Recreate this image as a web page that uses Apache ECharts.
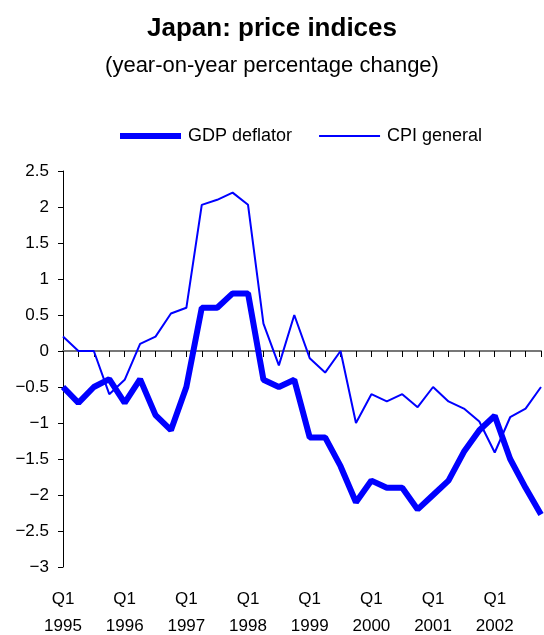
<!DOCTYPE html>
<html>
<head>
<meta charset="utf-8">
<script src="https://cdn.jsdelivr.net/npm/echarts@6/dist/echarts.min.js"></script>
<style>
html,body{margin:0;padding:0;background:#fff;}
#main{width:544px;height:635px;}
</style>
</head>
<body>
<div id="main"></div>
<script>
// quarters Q1 1995 .. Q4 2002
var years = ['1995', '1996', '1997', '1998', '1999', '2000', '2001', '2002'];
var quarters = [];
for (var y = 0; y < years.length; y++) {
	for (var q = 1; q <= 4; q++) {
		quarters.push('Q' + q + ' ' + years[y]);
	}
}

var gdpDeflator = [
	-0.5, -0.72, -0.5, -0.39, -0.72, -0.39, -0.89, -1.1,
	-0.5, 0.6, 0.6, 0.8, 0.8, -0.4, -0.5, -0.4,
	-1.2, -1.2, -1.6, -2.1, -1.8, -1.9, -1.9, -2.2,
	-2.0, -1.8, -1.4, -1.1, -0.9, -1.5, -1.9, -2.27
];
var cpiGeneral = [
	0.2, 0, 0, -0.6, -0.4, 0.1, 0.2, 0.52,
	0.6, 2.03, 2.1, 2.2, 2.03, 0.38, -0.2, 0.5,
	-0.1, -0.3, 0, -1.0, -0.6, -0.7, -0.6, -0.78,
	-0.5, -0.7, -0.8, -0.98, -1.41, -0.92, -0.8, -0.5
];

var yTicks = [-3, 2.5, 0.5]; // min, max, interval
var txtFont = '"Liberation Sans", Arial, sans-serif';

var myChart = echarts.init(document.getElementById('main'));

function fmtY(v) {
	var s = String(Math.round(v * 10) / 10);
	return s.replace('-', '\u2212');
}

var option = {
	animation: false,
	title: [{
		text: 'Japan: price indices',
		left: 'center',
		top: 11,
		textStyle: { fontFamily: txtFont, fontSize: 26, fontWeight: 'bold', color: '#000' }
	}, {
		text: '(year-on-year percentage change)',
		left: 'center',
		top: 50,
		textStyle: { fontFamily: txtFont, fontSize: 22, fontWeight: 'normal', color: '#000' }
	}],
	legend: {
		left: 112,
		top: 122,
		itemWidth: 61,
		itemHeight: 16,
		itemGap: 26,
		itemStyle: { opacity: 0 },
		textStyle: { fontFamily: txtFont, fontSize: 18, color: '#000', padding: [0, 0, 0, 2] },
		data: [
			{ name: 'GDP deflator', lineStyle: { width: 6 } },
			{ name: 'CPI general', lineStyle: { width: 2 } }
		]
	},
	grid: {
		left: 63,
		right: 3,
		top: 171,
		bottom: 68,
		outerBoundsMode: 'none'
	},
	xAxis: [{
		type: 'category',
		data: quarters,
		boundaryGap: false,
		axisLine: { onZero: true, lineStyle: { color: '#777', width: 2 } },
		axisTick: { show: true, interval: 0, length: 6, lineStyle: { color: '#000', width: 1 } },
		axisLabel: { show: false },
		splitLine: { show: false }
	}, {
		type: 'category',
		data: quarters,
		boundaryGap: false,
		position: 'bottom',
		axisLine: { show: false },
		axisTick: { show: false },
		axisLabel: {
			interval: 3,
			margin: 19,
			fontFamily: txtFont,
			fontSize: 17,
			lineHeight: 27,
			color: '#000',
			formatter: function (v) {
				var p = v.split(' ');
				return p[0] + '\n' + p[1];
			}
		},
		splitLine: { show: false }
	}],
	yAxis: {
		type: 'value',
		min: yTicks[0],
		max: yTicks[1],
		interval: yTicks[2],
		axisLine: { show: true, lineStyle: { color: '#000', width: 1 } },
		axisTick: { show: true, length: 5, lineStyle: { color: '#000' } },
		axisLabel: {
			margin: 14,
			fontFamily: txtFont,
			fontSize: 17,
			color: '#000',
			formatter: fmtY
		},
		splitLine: { show: false }
	},
	series: [{
		name: 'GDP deflator',
		type: 'line',
		data: gdpDeflator,
		symbol: 'none',
		clip: false,
		lineStyle: { color: '#0000ff', width: 6 },
		itemStyle: { color: '#0000ff' }
	}, {
		name: 'CPI general',
		type: 'line',
		data: cpiGeneral,
		symbol: 'none',
		clip: false,
		lineStyle: { color: '#0000ff', width: 2 },
		itemStyle: { color: '#0000ff' }
	}]
};

myChart.setOption(option);
window.onresize = myChart.resize;
</script>
</body>
</html>
